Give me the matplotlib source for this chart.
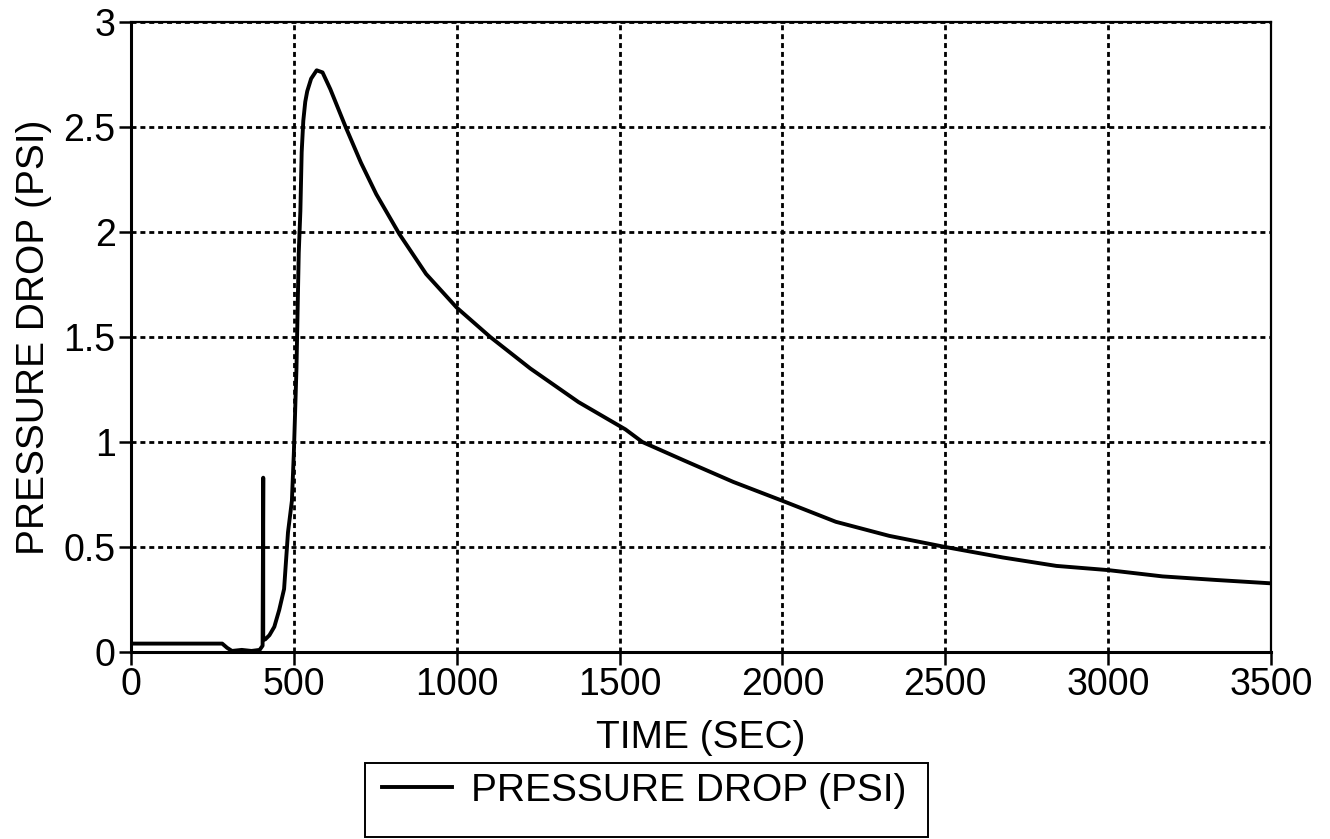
"""
Pressure drop over time, replotted from a scanned test chart.
"""
import matplotlib
matplotlib.use("Agg")
import matplotlib.pyplot as plt
from matplotlib.patches import Rectangle

plt.rcParams['font.family'] = ['Liberation Sans', 'DejaVu Sans']

# curve (seconds, psi)
time_sec = [0, 100, 200, 280, 295, 310, 340, 370, 395, 404,
            406, 406, 412, 425, 440, 455, 470, 482, 494, 500,
            508, 515, 520, 524, 529, 535, 541, 553, 570, 588,
            612, 659, 706, 753, 824, 906, 1000, 1103, 1226, 1374,
            1518, 1570, 1701, 1849, 2000, 2164, 2328, 2500, 2677, 2841,
            3000, 3167, 3331, 3500]
pressure_psi = [0.04, 0.04, 0.04, 0.04, 0.02, 0.005, 0.01, 0.005, 0.01, 0.03,
                0.83, 0.06, 0.06, 0.08, 0.12, 0.2, 0.3, 0.57, 0.72, 0.95,
                1.35, 1.9, 2.1, 2.38, 2.53, 2.62, 2.67, 2.73, 2.77, 2.76,
                2.68, 2.5, 2.33, 2.18, 1.99, 1.8, 1.64, 1.5, 1.35, 1.19,
                1.06, 1.0, 0.91, 0.81, 0.72, 0.62, 0.553, 0.5, 0.45, 0.41,
                0.39, 0.36, 0.343, 0.327]

x_ticks = [0, 500, 1000, 1500, 2000, 2500, 3000, 3500]
y_ticks = [0, 0.5, 1, 1.5, 2, 2.5, 3]
y_tick_labels = ['0', '0.5', '1', '1.5', '2', '2.5', '3']

fig = plt.figure(figsize=(13.3, 8.39), dpi=100)
ax = fig.add_axes([131 / 1330, 1 - 652 / 839, 1140 / 1330, 630 / 839])

line, = ax.plot(time_sec, pressure_psi, color='black', linewidth=2.8,
                label='PRESSURE DROP (PSI)', zorder=3)

ax.set_xlim(0, 3500)
ax.set_ylim(0, 3)
ax.set_xticks(x_ticks)
ax.set_xticklabels([str(t) for t in x_ticks])
ax.set_yticks(y_ticks)
ax.set_yticklabels(y_tick_labels)
ax.tick_params(direction='out', length=9, width=1.8, labelsize=27, pad=2)

# heavy dotted grid like the original plotter output
ax.grid(True, color='black', linestyle=(0, (1.8, 1.4)), linewidth=2.0)

for side in ['left', 'bottom']:
    ax.spines[side].set_linewidth(2.2)
for side in ['top', 'right']:
    ax.spines[side].set_linewidth(1.6)

ax.set_xlabel('TIME (SEC)', fontsize=28, labelpad=12)
ax.set_ylabel('PRESSURE DROP (PSI)', fontsize=28, labelpad=8)

# legend box sits below the axis label, partly cut by the page edge
fig.patches.append(Rectangle((365 / 1330, 2 / 839), 563 / 1330, 74 / 839,
                             transform=fig.transFigure, fill=False,
                             edgecolor='black', linewidth=1.4))
fig.legend(handles=[line], loc='center left',
           bbox_to_anchor=(382 / 1330, 1 - 791 / 839),
           fontsize=28, frameon=False, handlelength=1.8,
           handletextpad=0.5, borderpad=0, borderaxespad=0)

fig.savefig('out.png', dpi=100)
